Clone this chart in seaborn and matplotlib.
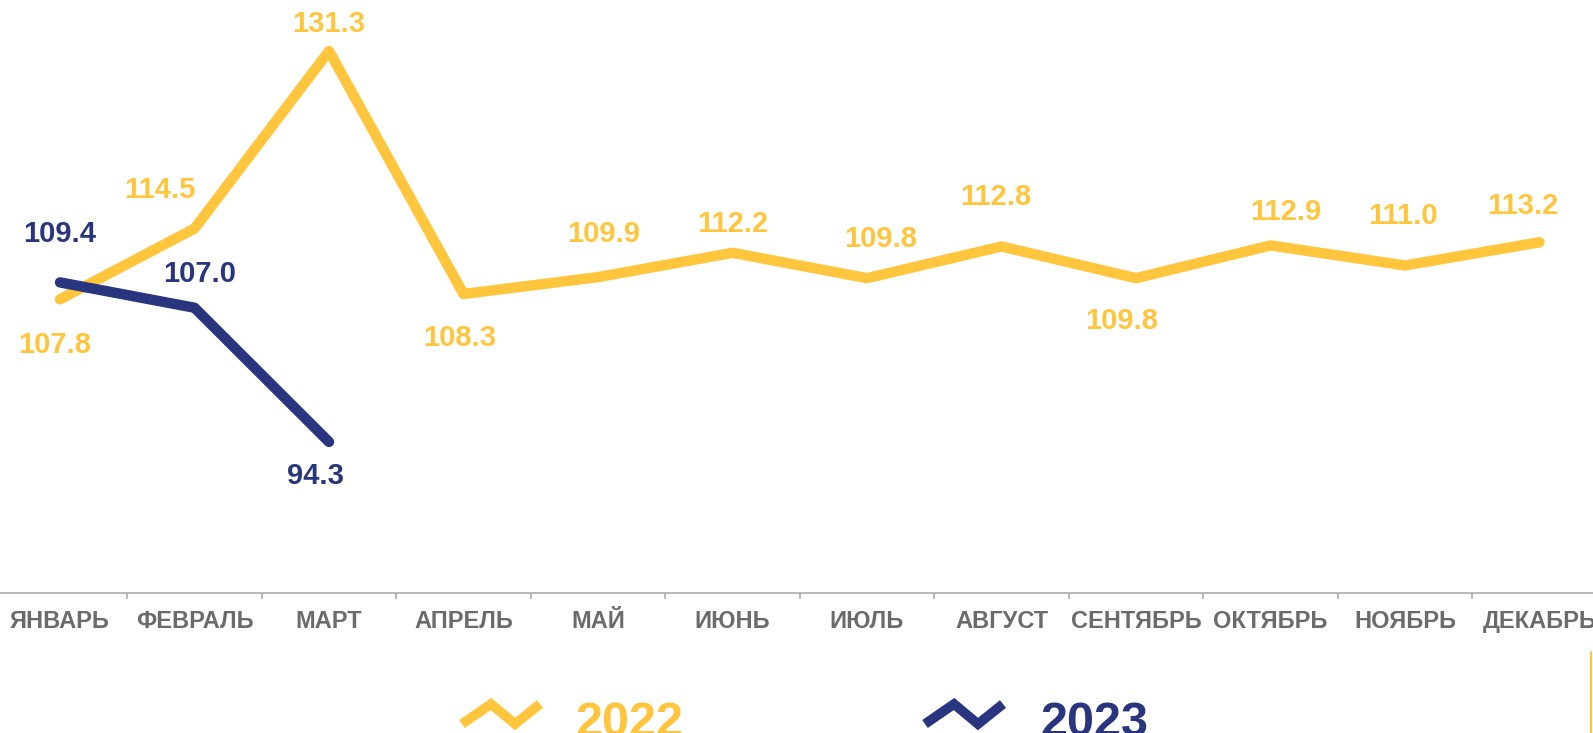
import matplotlib
matplotlib.use("Agg")
import matplotlib.pyplot as plt
import pandas as pd
import seaborn as sns

# Monthly index values (%)
months = ["ЯНВАРЬ", "ФЕВРАЛЬ", "МАРТ", "АПРЕЛЬ", "МАЙ", "ИЮНЬ",
          "ИЮЛЬ", "АВГУСТ", "СЕНТЯБРЬ", "ОКТЯБРЬ", "НОЯБРЬ", "ДЕКАБРЬ"]
values_2022 = [107.8, 114.5, 131.3, 108.3, 109.9, 112.2,
               109.8, 112.8, 109.8, 112.9, 111.0, 113.2]
values_2023 = [109.4, 107.0, 94.3]
series_names = ["2022", "2023"]

# label offsets in pixels (dx, dy), dy up
offsets_2022 = [(-5, -46), (-35, 39), (0, 27), (-4, -44), (6, 43), (0, 29),
                (14, 39), (-6, 49), (-14, -43), (15, 33), (-2, 49), (-17, 36)]
offsets_2023 = [(0, 48), (5, 34), (-14, -34)]

YELLOW = "#FFC53D"
NAVY = "#29367F"
GREY = "#6B6B6B"

sns.set_style("white")
plt.rcParams["font.family"] = ["Liberation Sans", "DejaVu Sans"]

W, H = 1593, 733
fig = plt.figure(figsize=(W / 100, H / 100), dpi=100)
# category centres at 60 + 134.5*i px, axis line at y=593 px
ax = fig.add_axes([-7.25 / W, (H - 593) / H, 1614 / W, 593 / H])

df22 = pd.DataFrame({"pos": range(len(values_2022)), "val": values_2022})
df23 = pd.DataFrame({"pos": range(len(values_2023)), "val": values_2023})

sns.lineplot(data=df22, x="pos", y="val", color=YELLOW, lw=7.5, ax=ax,
             solid_capstyle="round", solid_joinstyle="round")
sns.lineplot(data=df23, x="pos", y="val", color=NAVY, lw=7.5, ax=ax,
             solid_capstyle="round", solid_joinstyle="round")

for df, offs, col in [(df22, offsets_2022, YELLOW), (df23, offsets_2023, NAVY)]:
    for (p, v), (dx, dy) in zip(df[["pos", "val"]].values, offs):
        ax.annotate(f"{v:.1f}", (p, v), xytext=(dx, dy), textcoords="offset pixels",
                    ha="center", va="center", fontsize=21, fontweight="bold", color=col)

ax.set_xlim(-0.5, 11.5)
ax.set_ylim(80, 136.13)
ax.set_xticks(range(len(months)))
ax.set_xticklabels(months, fontsize=17, fontweight="bold", color=GREY)
ax.set_xticks([i + 0.5 for i in range(len(months) - 1)], minor=True)
ax.tick_params(axis="x", which="major", length=0, pad=12)
ax.tick_params(axis="x", which="minor", length=4.3, width=1.1, color="#A6A6A6",
               direction="out", bottom=True)
ax.set_yticks([])
ax.set_xlabel("")
ax.set_ylabel("")
for s in ["top", "left", "right"]:
    ax.spines[s].set_visible(False)
ax.spines["bottom"].set_color("#A6A6A6")
ax.spines["bottom"].set_linewidth(1.1)

# legend drawn in pixel space
lg = fig.add_axes([0, 0, 1, 1], facecolor="none")
lg.set_xlim(0, W)
lg.set_ylim(H, 0)
lg.axis("off")
for x0, col, name, tx in [(462, YELLOW, series_names[0], 629), (925, NAVY, series_names[1], 1094)]:
    lg.plot([x0, x0 + 29, x0 + 53, x0 + 78], [724, 704, 724, 704], color=col, lw=7,
            solid_capstyle="butt", solid_joinstyle="miter")
    lg.text(tx, 736, name, ha="center", va="baseline", fontsize=35, fontweight="bold",
            color=col)
lg.plot([1591, 1591], [652, 733], color=YELLOW, lw=1.5)

fig.savefig("out.png", dpi=100)
